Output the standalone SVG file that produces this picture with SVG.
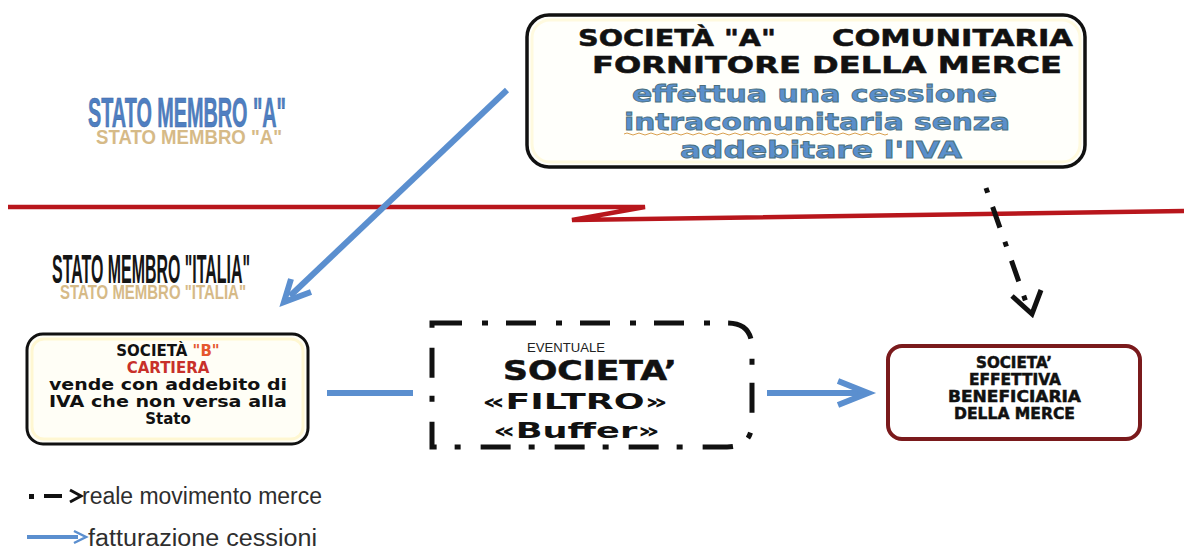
<svg xmlns="http://www.w3.org/2000/svg" width="1184" height="553" viewBox="0 0 1184 553">
<style>
.hv{font-family:"DejaVu Sans","Liberation Sans",sans-serif;font-weight:bold;}
.blk{fill:#111;stroke:#111;stroke-width:0.5;}
.blu{fill:#5a8fcc;stroke:#4a6f80;stroke-width:0.8;}
.cond{font-family:"Liberation Sans Narrow","Liberation Sans",sans-serif;font-weight:bold;}
.leg{font-family:"Liberation Sans Narrow","Liberation Sans",sans-serif;fill:#2e2e2e;font-size:23px;}
.bl{stroke:#5b8fcf;stroke-width:6;fill:none;stroke-linecap:butt;}
.dd{stroke:#111;stroke-width:5;fill:none;}
</style>
<rect width="1184" height="553" fill="#ffffff"/>

<!-- state labels -->
<g id="stato-a">
  <text x="96" y="144" class="cond" font-size="21" fill="#c9a460" opacity="0.75" textLength="186" lengthAdjust="spacingAndGlyphs">STATO MEMBRO "A"</text>
  <text x="88" y="127" class="cond" font-size="42" fill="#4f7fc2" stroke="#3d66a0" stroke-width="0.6" textLength="198" lengthAdjust="spacingAndGlyphs">STATO MEMBRO "A"</text>
</g>
<g id="stato-italia">
  <text x="60" y="299" class="cond" font-size="21" fill="#c9a460" opacity="0.75" textLength="186" lengthAdjust="spacingAndGlyphs">STATO MEMBRO "ITALIA"</text>
  <text x="52" y="283" class="cond" font-size="40" fill="#151515" textLength="198" lengthAdjust="spacingAndGlyphs">STATO MEMBRO "ITALIA"</text>
</g>

<!-- border line -->
<g id="confine">
  <polyline points="8,207 645,207 572,220 1184,211" fill="none" stroke="#b8161c" stroke-width="4.5" stroke-linejoin="miter"/>
</g>

<!-- nodes -->
<g id="societa-a">
  <rect x="527" y="15" width="558" height="152" rx="22" fill="#fffffb" stroke="#111" stroke-width="3.5"/>
  <rect x="532" y="20" width="548" height="142" rx="18" fill="none" stroke="#fffadf" stroke-width="3"/>
  <text x="578" y="46" class="hv blk" font-size="23" textLength="198" lengthAdjust="spacingAndGlyphs">SOCIETÀ "A"</text>
  <text x="832" y="46" class="hv blk" font-size="23" textLength="241" lengthAdjust="spacingAndGlyphs">COMUNITARIA</text>
  <text x="592" y="73" class="hv blk" font-size="23" textLength="470" lengthAdjust="spacingAndGlyphs">FORNITORE DELLA MERCE</text>
  <text x="632" y="102" class="hv blu" font-size="23" textLength="365" lengthAdjust="spacingAndGlyphs">effettua una cessione</text>
  <text x="624" y="130" class="hv blu" font-size="23" textLength="386" lengthAdjust="spacingAndGlyphs">intracomunitaria senza</text>
  <path d="M624,134 q3,-2 6,0 t6,0 t6,0 t6,0 t6,0 t6,0 t6,0 t6,0 t6,0 t6,0 t6,0 t6,0 t6,0 t6,0 t6,0 t6,0 t6,0 t6,0 t6,0 t6,0 t6,0 t6,0 t6,0 t6,0 t6,0 t6,0 t6,0 t6,0 t6,0 t6,0 t6,0 t6,0 t6,0 t6,0 t6,0 t6,0 t6,0 t6,0 t6,0 t6,0 t6,0 t6,0 t6,0 t6,0" fill="none" stroke="#d9a050" stroke-width="1"/>
  <text x="680" y="158" class="hv blu" font-size="23" textLength="282" lengthAdjust="spacingAndGlyphs">addebitare l'IVA</text>
</g>

<g id="societa-b">
  <rect x="27" y="334" width="281" height="110" rx="16" fill="#fffef6" stroke="#111" stroke-width="3"/>
  <rect x="32" y="339" width="271" height="100" rx="12" fill="none" stroke="#fff7d2" stroke-width="3"/>
  <text x="168" y="356" text-anchor="middle" class="hv" font-size="15"><tspan fill="#111">SOCIETÀ </tspan><tspan fill="#e5572e">"B"</tspan></text>
  <text x="168" y="373" text-anchor="middle" class="hv" font-size="15" fill="#c8302a">CARTIERA</text>
  <text x="168" y="390" text-anchor="middle" class="hv" fill="#111" font-size="15" textLength="238" lengthAdjust="spacingAndGlyphs">vende con addebito di</text>
  <text x="168" y="407" text-anchor="middle" class="hv" fill="#111" font-size="15" textLength="238" lengthAdjust="spacingAndGlyphs">IVA che non versa alla</text>
  <text x="168" y="424" text-anchor="middle" class="hv" fill="#111" font-size="15">Stato</text>
</g>

<g id="societa-filtro">
  <path d="M432,323 L727,323 Q752,323 752,348 L752,422 Q752,447 727,447 L432,447 Z" fill="#ffffff" stroke="#111" stroke-width="5" stroke-dasharray="30 20 6 18"/>
  <text x="527" y="352" font-family="Liberation Sans, sans-serif" font-size="13" fill="#222" textLength="78" lengthAdjust="spacingAndGlyphs">EVENTUALE</text>
  <text x="503" y="380" class="hv blk" font-size="26" textLength="174" lengthAdjust="spacingAndGlyphs">SOCIETA’</text>
  <text x="482" y="409" class="hv" fill="#111" font-size="22" textLength="186" lengthAdjust="spacingAndGlyphs">«FILTRO»</text>
  <text x="493" y="438" class="hv" fill="#111" font-size="22" textLength="167" lengthAdjust="spacingAndGlyphs">«Buffer»</text>
</g>

<g id="beneficiaria">
  <rect x="888" y="346" width="252" height="93" rx="14" fill="#ffffff" stroke="#7a1a1c" stroke-width="4"/>
  <text x="976" y="368" class="hv blk" font-size="15" textLength="76" lengthAdjust="spacingAndGlyphs">SOCIETA’</text>
  <text x="969" y="385" class="hv blk" font-size="15" textLength="92" lengthAdjust="spacingAndGlyphs">EFFETTIVA</text>
  <text x="948" y="402" class="hv blk" font-size="15" textLength="133" lengthAdjust="spacingAndGlyphs">BENEFICIARIA</text>
  <text x="954" y="419" class="hv blk" font-size="15" textLength="121" lengthAdjust="spacingAndGlyphs">DELLA MERCE</text>
</g>

<!-- connectors -->
<g id="connectors">
  <line x1="507" y1="90" x2="290" y2="296" class="bl"/>
  <polyline points="291,279 284,302 311,292" class="bl" stroke-linejoin="miter"/>
  <line x1="327" y1="393" x2="413" y2="393" class="bl"/>
  <line x1="767" y1="393" x2="862" y2="393" class="bl"/>
  <polyline points="838,381 868,393 838,405" class="bl" stroke-width="5"/>
  <line x1="986" y1="188" x2="1027" y2="305" class="dd" stroke-dasharray="5 15 22 15"/>
  <polyline points="1012,296 1032,314 1041,290" class="dd" stroke-linejoin="miter"/>
</g>

<!-- legend -->
<g id="legenda">
  <rect x="29" y="494" width="5" height="5" fill="#111"/>
  <line x1="44" y1="496" x2="62" y2="496" stroke="#111" stroke-width="4"/>
  <polyline points="70,490 81,496 70,502" fill="none" stroke="#111" stroke-width="3"/>
  <text x="82" y="504" class="leg" textLength="240" lengthAdjust="spacingAndGlyphs">reale movimento merce</text>
  <line x1="27" y1="537" x2="78" y2="537" stroke="#5b8fcf" stroke-width="4"/>
  <polyline points="74,531 86,537 74,543" fill="none" stroke="#5b8fcf" stroke-width="2.5"/>
  <text x="88" y="546" class="leg" textLength="229" lengthAdjust="spacingAndGlyphs">fatturazione cessioni</text>
</g>
</svg>
